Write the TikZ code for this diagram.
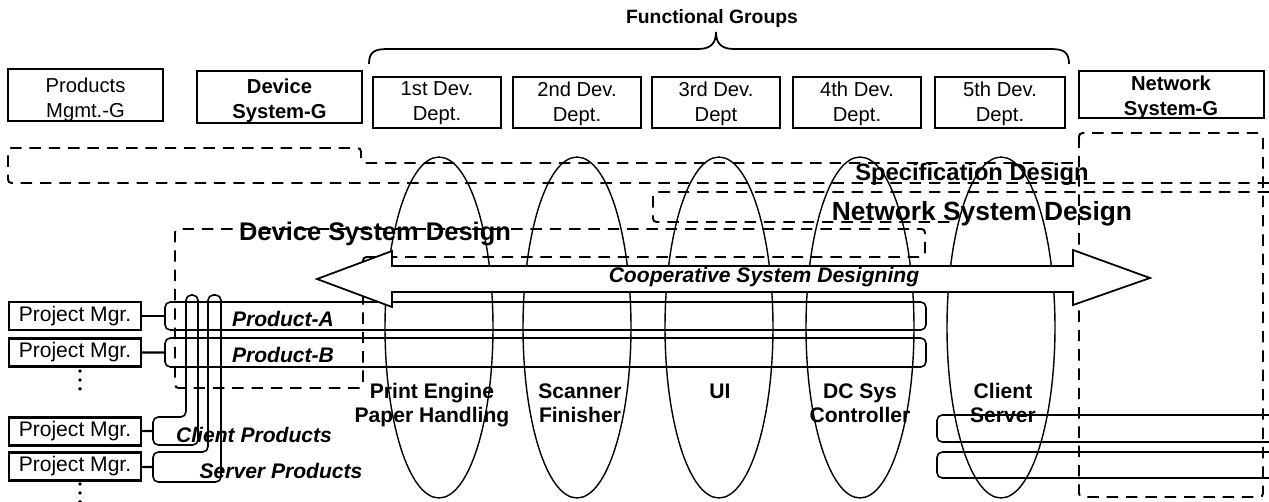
\documentclass[tikz,border=0pt]{standalone}
\usepackage{fontspec}
\setmainfont{Liberation Sans}
\usetikzlibrary{shapes.geometric,fit}

\begin{document}
\begin{tikzpicture}[x=0.02cm,y=-0.02cm,
  grp/.style={draw,line width=1.2pt,inner sep=0pt},
  gtxt/.style={align=center,font=\fontsize{11.5}{14.2}\selectfont},
  gbold/.style={align=center,font=\fontsize{11.5}{14.2}\selectfont\bfseries},
  pm/.style={draw,line width=1.2pt,inner sep=0pt,minimum width=2.64cm,minimum height=0.56cm,font=\fontsize{12}{14}\selectfont},
  bar/.style={draw,line width=0.9pt,rounded corners=3pt,inner sep=0pt},
  lobe/.style={draw,ellipse,line width=0.8pt,minimum width=2.16cm,minimum height=6.82cm,inner sep=0pt},
  dsh/.style={line width=1.1pt,dash pattern=on 6.5pt off 4.5pt,rounded corners=2pt},
  ttl/.style={anchor=base,font=\fontsize{#1}{16}\selectfont\bfseries},
  lab/.style={anchor=base,font=\fontsize{12}{14}\selectfont\bfseries\itshape},
  elab/.style={align=center,font=\fontsize{12}{13.6}\selectfont\bfseries},
  dots/.style={line width=2.2pt,line cap=round,dash pattern=on 0pt off 5.1pt}]
  \useasboundingbox (0,0) rectangle (1269,501);

  % groups along the top
  \node[grp,line width=0.8pt,fit={(8,69) (163,121)}] (pmg) {};
  \node[grp,fit={(197,71) (362,123)}] (dsg) {};
  \node[grp,fit={(373,77) (501,128)}] (d1) {};
  \node[grp,fit={(513,77) (641,128)}] (d2) {};
  \node[grp,fit={(652,77) (780,128)}] (d3) {};
  \node[grp,fit={(793,77) (921,128)}] (d4) {};
  \node[grp,fit={(935,77) (1065,128)}] (d5) {};
  \node[grp,fit={(1079,71) (1264,118)}] (nsg) {};
  \node[gtxt]  (pmgt) at (85.5,99.5) {Products\\Mgmt.-G};
  \node[gbold] (dsgt) at (279.5,101) {Device\\System-G};
  \node[gtxt]  (d1t) at (437,103.5) {1st Dev.\\Dept.};
  \node[gtxt]  (d2t) at (577,103.5) {2nd Dev.\\Dept.};
  \node[gtxt]  (d3t) at (716,103.5) {3rd Dev.\\Dept};
  \node[gtxt]  (d4t) at (857,103.5) {4th Dev.\\Dept.};
  \node[gtxt]  (d5t) at (1000,103.5) {5th Dev.\\Dept.};
  \node[gbold] (nsgt) at (1171,98) {Network\\System-G};

  % brace over the functional groups
  \draw[line width=1pt] (369,64) .. controls (369,52) and (374,49) .. (388,49) -- (698,49)
    .. controls (710,49) and (716,44) .. (716,32) .. controls (716,44) and (722,49) .. (734,49)
    -- (1050,49) .. controls (1064,49) and (1069,52) .. (1069,64);
  \node[ttl=11] (fg) at (712,23) {Functional Groups};

  % design areas
  \draw[dsh] (1269,183) -- (8,183) -- (8,148) -- (361,148) -- (361,163) -- (1078,163);
  \draw[dsh] (1269,192) -- (653,192) -- (653,222) -- (955,222);
  \draw[dsh] (363,257) -- (925,257) -- (925,229) -- (175,229) -- (175,388) -- (363,388) -- cycle;
  \draw[dsh] (1079,133) rectangle (1263,497);

  % functional lobes
  \node[lobe] (e1) at (439,327.5) {};
  \node[lobe] (e2) at (577,327.5) {};
  \node[lobe] (e3) at (719,327.5) {};
  \node[lobe] (e4) at (860,327.5) {};
  \node[lobe] (e5) at (1001,327.5) {};

  % products
  \node[pm] (pm1) at (75,316) {Project Mgr.};
  \node[pm] (pm2) at (75,352.5) {Project Mgr.};
  \node[pm] (pm3) at (75,431.5) {Project Mgr.};
  \node[pm] (pm4) at (75,466.5) {Project Mgr.};
  \node[bar,fit={(165,302) (926,330)}] (pa) {};
  \node[bar,fit={(165,338) (926,367)}] (pb) {};
  \coordinate (cl) at (153,431);
  \coordinate (sv) at (153,467);
  \draw[bar] (cl) -- (153,417) -- (186,417) -- (186,295) -- (198,295) -- (198,445) -- (153,445) -- cycle;
  \draw[bar] (sv) -- (153,452) -- (208,452) -- (208,295) -- (221,295) -- (221,482) -- (153,482) -- cycle;
  \draw[bar] (1275,415) -- (937,415) -- (937,442) -- (1275,442);
  \draw[bar] (1275,452) -- (937,452) -- (937,478) -- (1275,478);
  \draw[line width=1.2pt] (pm1) -- (pa);
  \draw[line width=1.2pt] (pm2) -- (pb);
  \draw[line width=1.2pt] (pm3) -- (cl);
  \draw[line width=1.2pt] (pm4) -- (sv);
  \draw[dots] (80,371) -- (80,389);
  \draw[dots] (80,484) -- (80,502);

  % cooperative arrow
  \draw[line width=1pt,fill=white] (317,279) -- (392,251) -- (392,266) -- (1073,266) -- (1073,250)
    -- (1150,278) -- (1073,305) -- (1073,292) -- (392,292) -- (392,307) -- cycle;

  % labels
  \node[ttl=14.5] (dsd) at (375,240) {Device System Design};
  \node[ttl=13.5] (spd) at (972,180) {Specification Design};
  \node[ttl=15]   (nsd) at (982,220) {Network System Design};
  \node[lab] (coop) at (764,282) {Cooperative System Designing};
  \node[lab] (pat) at (283,326) {Product-A};
  \node[lab] (pbt) at (283,362) {Product-B};
  \node[lab] (clt) at (254,442) {Client Products};
  \node[lab] (svt) at (281,478) {Server Products};
  \node[elab] (e1t) at (432,405) {Print Engine\\Paper Handling};
  \node[elab] (e2t) at (580,403) {Scanner\\Finisher};
  \node[elab,anchor=base] (e3t) at (720,398) {UI};
  \node[elab] (e4t) at (860,403) {DC Sys\\Controller};
  \node[elab] (e5t) at (1003,403) {Client\\Server};
\end{tikzpicture}
\end{document}
